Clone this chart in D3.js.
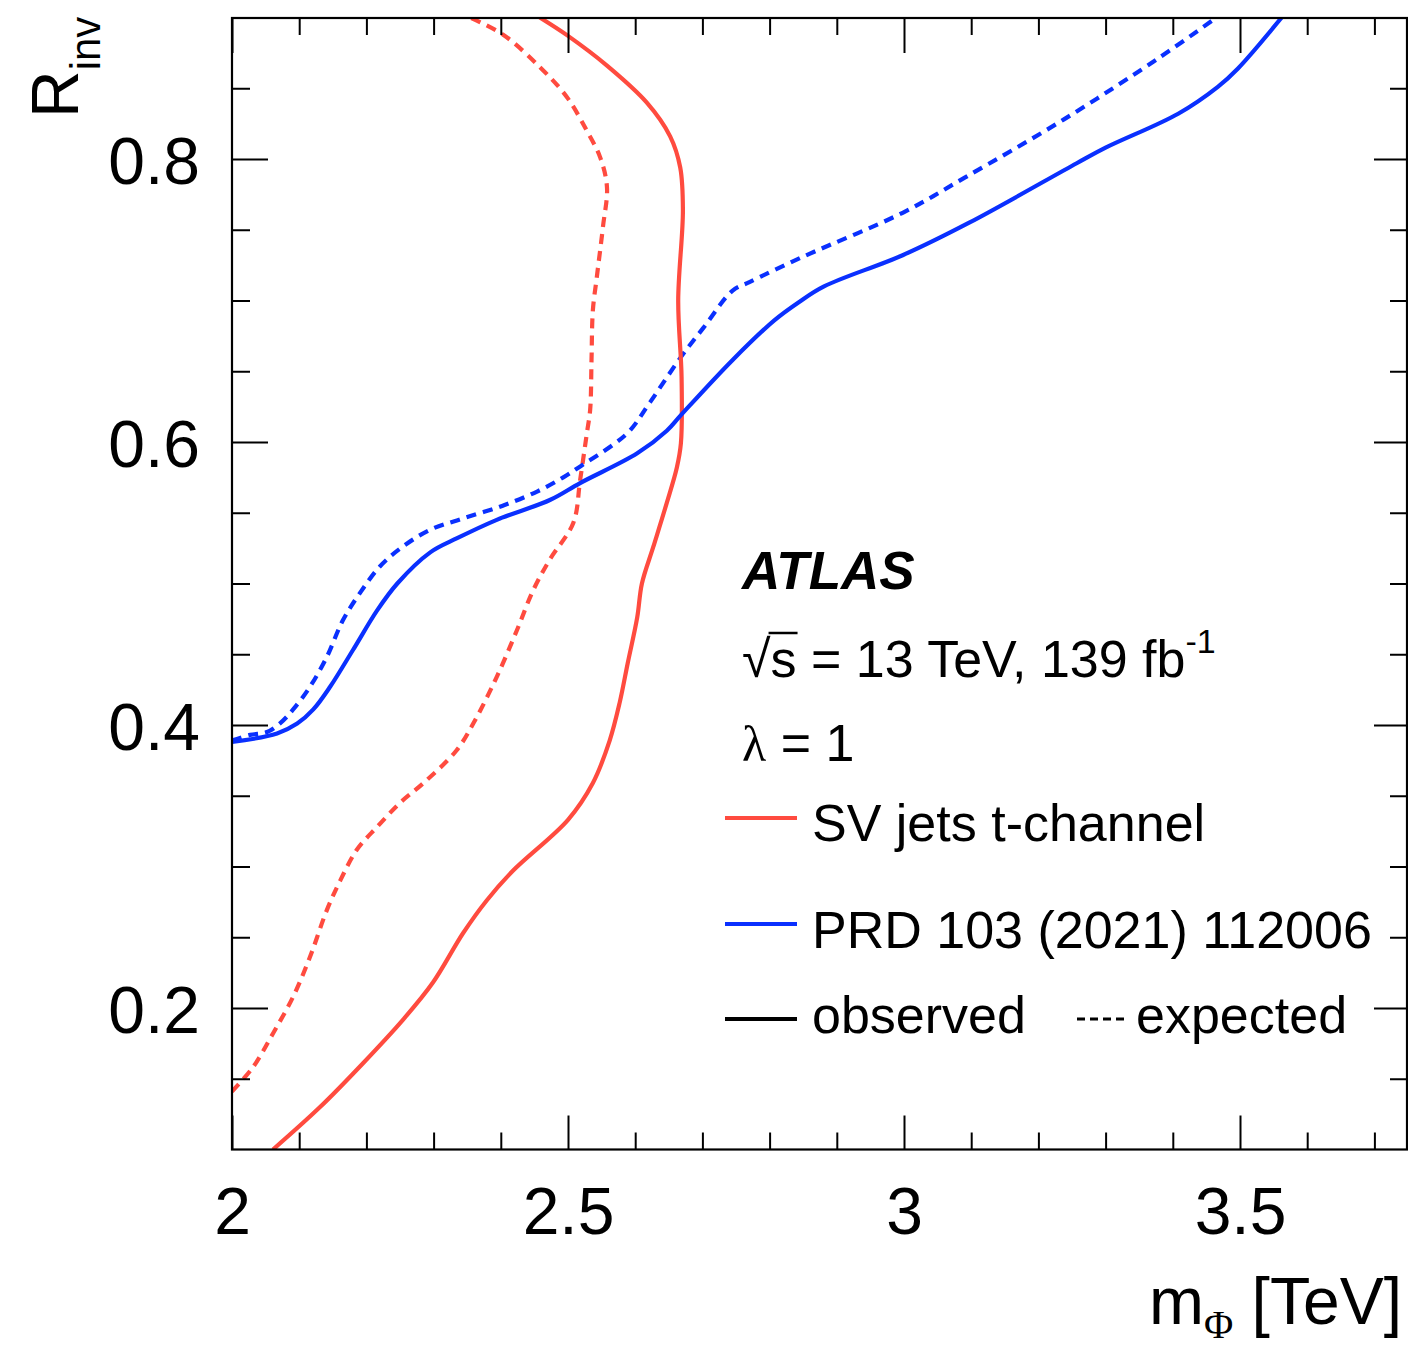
<!DOCTYPE html>
<html><head><meta charset="utf-8">
<script src="https://cdn.jsdelivr.net/npm/d3@7"></script>
<style>
body{margin:0;background:#fff}
svg{display:block}
text{font-family:"Liberation Sans",Arial,Helvetica,sans-serif;fill:#000}
</style>
</head><body>
<svg id="c" width="1408" height="1349"></svg>
<script>
// ---- tick labels / ticks ----
const xMajor = [2, 2.5, 3, 3.5];
const xMinor = [2.1,2.2,2.3,2.4,2.6,2.7,2.8,2.9,3.1,3.2,3.3,3.4,3.6,3.7];
const yMajor = [0.2, 0.4, 0.6, 0.8];
const yMinor = [0.15,0.25,0.3,0.35,0.45,0.5,0.55,0.65,0.7,0.75,0.85];

// ---- SV jets t-channel, observed ----
const svObsM = [2.061,2.131,2.195,2.255,2.299,2.344,2.379,2.418,2.500,2.537,2.562,2.577,2.589,2.603,2.610,2.627,2.647,2.662,2.668,2.669,2.664,2.671,2.667,2.652,2.617,2.558,2.500,2.458];
const svObsR = [0.100,0.130,0.161,0.192,0.218,0.253,0.276,0.297,0.333,0.359,0.389,0.416,0.444,0.476,0.500,0.526,0.557,0.582,0.599,0.646,0.700,0.764,0.794,0.816,0.840,0.866,0.887,0.900];
// ---- SV jets t-channel, expected ----
const svExpM = [2.000,2.031,2.061,2.091,2.116,2.141,2.161,2.186,2.216,2.250,2.285,2.334,2.359,2.394,2.424,2.448,2.473,2.508,2.518,2.528,2.533,2.535,2.537,2.543,2.552,2.558,2.548,2.528,2.498,2.458,2.403,2.354];
const svExpR = [0.141,0.158,0.182,0.208,0.236,0.269,0.290,0.312,0.328,0.345,0.359,0.382,0.401,0.434,0.467,0.495,0.517,0.543,0.573,0.606,0.623,0.658,0.693,0.717,0.752,0.780,0.801,0.820,0.844,0.865,0.888,0.900];
// ---- PRD 103 (2021) 112006, observed ----
const prdObsM = [2.000,2.067,2.097,2.121,2.146,2.180,2.216,2.246,2.295,2.335,2.394,2.473,2.518,2.603,2.647,2.668,2.745,2.807,2.844,2.881,2.998,3.097,3.257,3.300,3.408,3.467,3.497,3.562];
const prdObsR = [0.388,0.394,0.401,0.411,0.427,0.453,0.481,0.500,0.522,0.532,0.545,0.559,0.571,0.592,0.608,0.619,0.658,0.686,0.699,0.710,0.732,0.755,0.797,0.808,0.832,0.851,0.864,0.900];
// ---- PRD 103 (2021) 112006, expected ----
const prdExpM = [2.000,2.027,2.052,2.071,2.091,2.116,2.141,2.165,2.190,2.220,2.254,2.295,2.344,2.403,2.454,2.493,2.522,2.567,2.592,2.622,2.668,2.702,2.745,2.770,2.850,2.998,3.091,3.238,3.381,3.465];
const prdExpR = [0.389,0.393,0.395,0.401,0.411,0.427,0.448,0.474,0.493,0.512,0.526,0.538,0.546,0.555,0.565,0.575,0.584,0.598,0.608,0.628,0.660,0.681,0.707,0.713,0.731,0.762,0.787,0.828,0.872,0.900];

const legendLabels = ["SV jets t-channel", "PRD 103 (2021) 112006"];
const styleLabels = ["observed", "expected"];

const RED = "#ff4b3f", BLUE = "#0a30ff";

const svg = d3.select("#c");
const L = 232, R = 1407, T = 18, B = 1149.5;
const x = d3.scaleLinear().domain([2, 3.75]).range([232, 1408]);
const y = d3.scaleLinear().domain([0.1, 0.9]).range([1149.5, 17.5]);

svg.append("clipPath").attr("id","clip").append("rect")
  .attr("x",L).attr("y",T).attr("width",R-L).attr("height",B-T);

// ---- curves ----
const line = d3.line().x(d=>x(d[0])).y(d=>y(d[1])).curve(d3.curveCatmullRom.alpha(0.5));
const zip = (m,r)=>m.map((v,i)=>[v,r[i]]);
const series = [
  {d: zip(svExpM, svExpR), c: RED, dash: "10,7"},
  {d: zip(prdExpM, prdExpR), c: BLUE, dash: "10,7"},
  {d: zip(svObsM, svObsR), c: RED, dash: null},
  {d: zip(prdObsM, prdObsR), c: BLUE, dash: null}
];
const gc = svg.append("g").attr("clip-path","url(#clip)");
series.forEach(s=>{
  gc.append("path").attr("d", line(s.d)).attr("fill","none")
    .attr("stroke", s.c).attr("stroke-width", 4.2)
    .attr("stroke-dasharray", s.dash);
});

// ---- axes ----
function ax(gen, tr, vals, size, fmt, pad){
  const g = svg.append("g").attr("transform", tr)
    .call(gen.tickValues(vals).tickSize(size).tickPadding(pad||0).tickFormat(fmt || (()=>"")));
  g.select(".domain").remove();
  g.selectAll(".tick line").attr("stroke","#000").attr("stroke-width",2);
  g.attr("font-size",66).attr("font-family",'"Liberation Sans",Arial,sans-serif');
  return g;
}
ax(d3.axisBottom(x), `translate(0,${B})`, xMajor, -34, d=>String(d), 38);
ax(d3.axisBottom(x), `translate(0,${B})`, xMinor, -17);
ax(d3.axisTop(x), `translate(0,${T})`, xMajor, -35);
ax(d3.axisTop(x), `translate(0,${T})`, xMinor, -17);
const gl = ax(d3.axisLeft(y), `translate(${L},0)`, yMajor, -36, d3.format(".1f"), 32);
gl.selectAll("text").attr("dy","0.37em");
ax(d3.axisLeft(y), `translate(${L},0)`, yMinor, -18);
ax(d3.axisRight(y), `translate(${R},0)`, yMajor, -33);
ax(d3.axisRight(y), `translate(${R},0)`, yMinor, -17);

// frame
svg.append("rect").attr("x",L).attr("y",T).attr("width",R-L).attr("height",B-T)
  .attr("fill","none").attr("stroke","#000").attr("stroke-width",2.2);

// ---- axis titles ----
const xt = svg.append("text").attr("x",1402).attr("y",1324).attr("text-anchor","end").attr("font-size",66);
xt.append("tspan").text("m");
xt.append("tspan").attr("font-family",'"Liberation Serif","Times New Roman",serif').attr("font-size",40).attr("dy",14).text("\u03A6");
xt.append("tspan").attr("dy",-14).text(" [TeV]");

const yt = svg.append("text").attr("transform","translate(78,118) rotate(-90)").attr("font-size",66);
yt.append("tspan").text("R");
yt.append("tspan").attr("font-size",42).attr("dy",22).text("inv");

// ---- labels ----
svg.append("text").attr("x",742).attr("y",589).attr("font-size",53)
  .attr("font-weight","bold").attr("font-style","italic").text("ATLAS");

const st = svg.append("text").attr("x",742).attr("y",677).attr("font-size",52);
st.append("tspan").text("\u221A");
st.append("tspan").text("s = 13 TeV, 139 fb");
st.append("tspan").attr("font-size",34).attr("dy",-24).text("-1");
{
  const n = st.node();
  const s0 = n.getStartPositionOfChar(1).x, s1 = n.getEndPositionOfChar(1).x;
  svg.append("line").attr("x1", s0-2).attr("x2", s1+1).attr("y1", 633).attr("y2", 633)
    .attr("stroke","#000").attr("stroke-width",2.5);
}

const lt = svg.append("text").attr("x",742).attr("y",761).attr("font-size",52);
lt.append("tspan").attr("font-family",'"Liberation Serif","Times New Roman",serif').attr("font-size",50).text("\u03BB");
lt.append("tspan").text(" = 1");

// legend
const legend = [
  {c: RED, ly: 818, ty: 841, txt: legendLabels[0]},
  {c: BLUE, ly: 924, ty: 948, txt: legendLabels[1]}
];
legend.forEach(e=>{
  svg.append("line").attr("x1",725).attr("x2",797).attr("y1",e.ly).attr("y2",e.ly)
    .attr("stroke",e.c).attr("stroke-width",4);
  svg.append("text").attr("x",812).attr("y",e.ty).attr("font-size",52).text(e.txt);
});
svg.append("line").attr("x1",725).attr("x2",797).attr("y1",1019).attr("y2",1019)
  .attr("stroke","#000").attr("stroke-width",4);
svg.append("text").attr("x",812).attr("y",1033).attr("font-size",52).text(styleLabels[0]);
svg.append("line").attr("x1",1077).attr("x2",1128).attr("y1",1019).attr("y2",1019)
  .attr("stroke","#000").attr("stroke-width",3).attr("stroke-dasharray","8,5");
svg.append("text").attr("x",1136).attr("y",1033).attr("font-size",52).text(styleLabels[1]);
</script>
</body></html>
